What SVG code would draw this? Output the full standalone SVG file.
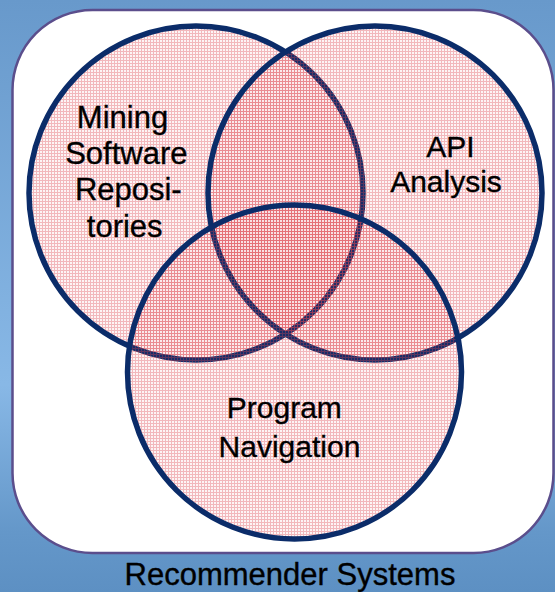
<svg xmlns="http://www.w3.org/2000/svg" width="555" height="592" viewBox="0 0 555 592">
  <style>
    .lbl { font-family: "Liberation Sans", Arial, sans-serif; font-size: 30px; fill: #000; stroke: #000; stroke-width: 0.35px; text-anchor: middle; }
    .big { font-size: 31px; }
    .tall { font-size: 31px; }
    .set { fill: url(#hatch); stroke: #0b2c69; stroke-width: 5.5; }
  </style>
  <defs>
    <linearGradient id="bg" x1="0" y1="0" x2="0" y2="1">
      <stop offset="0" stop-color="#6899cb"/>
      <stop offset="0.65" stop-color="#88b8e6"/>
      <stop offset="0.9" stop-color="#6497c9"/>
      <stop offset="1" stop-color="#5d90c3"/>
    </linearGradient>
    <pattern id="hatch" x="0" y="0" width="3" height="3" patternUnits="userSpaceOnUse">
      <rect x="0" y="0" width="3" height="3" fill="#dc4450" fill-opacity="0.06"/>
      <rect x="0" y="0" width="3" height="1" fill="#dc4450" fill-opacity="0.34"/>
      <rect x="0" y="1" width="1" height="2" fill="#dc4450" fill-opacity="0.34"/>
    </pattern>
  </defs>

  <rect x="0" y="0" width="555" height="592" fill="url(#bg)"/>

  <g id="recommender-systems">
    <rect x="12.5" y="10" width="541" height="543" rx="80" ry="80" fill="#ffffff" stroke="#5b4e8c" stroke-width="2.5"/>
    <text class="lbl big" x="290" y="584.5">Recommender Systems</text>
  </g>

  <g id="mining-software-repositories">
    <circle class="set" cx="196" cy="193" r="167"/>
  </g>
  <g id="api-analysis">
    <circle class="set" cx="375" cy="193" r="167"/>
  </g>
  <g id="program-navigation">
    <circle class="set" cx="294.5" cy="372" r="167"/>
  </g>

  <g id="labels">
    <text class="lbl tall" x="122.5" y="128">Mining</text>
    <text class="lbl tall" x="126.3" y="164">Software</text>
    <text class="lbl tall" x="128.3" y="200">Reposi-</text>
    <text class="lbl tall" x="124.7" y="236.5">tories</text>

    <text class="lbl" x="450.5" y="156.7">API</text>
    <text class="lbl" x="446" y="191.7">Analysis</text>

    <text class="lbl" x="284.3" y="418.3">Program</text>
    <text class="lbl" x="289.5" y="456.7">Navigation</text>
  </g>
</svg>
